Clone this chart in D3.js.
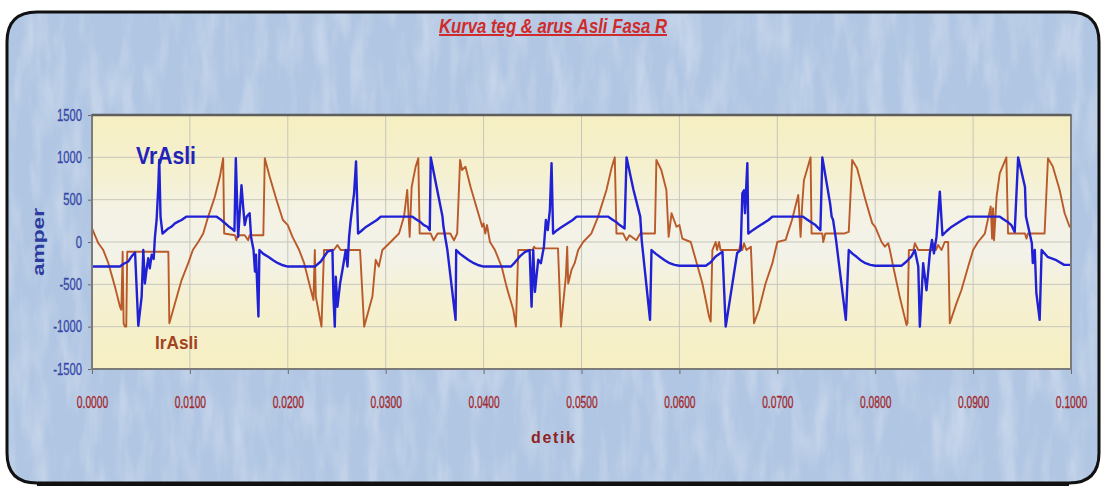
<!DOCTYPE html>
<html><head>
<meta charset="utf-8">
<title>Kurva teg & arus Asli Fasa R</title>
<script src="https://d3js.org/d3.v7.min.js"></script>
<style>
  body { margin: 0; background: #fff; }
  svg { display: block; }
  text { font-family: "Liberation Sans", Arial, sans-serif; }
</style>
</head>
<body>
<svg id="chart" width="1103" height="489"></svg>
<script>
// ---- data (time in ms, value in amper) ----
const xTicks = [0, 0.01, 0.02, 0.03, 0.04, 0.05, 0.06, 0.07, 0.08, 0.09, 0.1];
const yTicks = [-1500, -1000, -500, 0, 500, 1000, 1500];

const vrAsli = [
  [0,-290],[2.85,-290],[3.2,-260],[3.7,-230],[4.1,-160],[4.4,-125],[4.73,-990],[5.07,-645],[5.24,-95],[5.4,-490],
  [5.6,-300],[5.75,-190],[5.9,-310],[6.1,-150],[6.3,-200],[6.43,60],[6.6,260],[6.77,650],[6.87,970],[7.0,300],
  [7.2,100],[7.5,130],[7.8,160],[8.1,180],[8.47,220],[8.8,240],[9.15,260],[9.4,280],[9.66,300],[12.7,300],
  [13.1,270],[13.5,230],[13.9,190],[14.25,160],[14.55,130],[14.69,990],[14.93,60],[15.27,670],[15.45,400],[15.6,200],
  [15.8,300],[16.1,340],[16.25,60],[16.5,-95],[16.65,-350],[16.75,-150],[17.0,-880],[17.1,-95],[17.5,-140],[18.0,-175],
  [18.5,-215],[19.0,-250],[19.5,-275],[20,-290],
  [22.76,-290],[23.37,-230],[24.05,-115],[24.56,-95],[24.66,-640],[24.8,-1000],[24.9,-410],[25.07,-765],[25.34,-490],[25.58,-330],
  [25.92,-95],[26.1,-290],[26.26,60],[26.43,260],[26.77,575],[26.97,950],[27.18,100],[27.5,130],[27.9,170],[28.3,200],
  [28.7,230],[29.1,260],[29.5,300],[32.7,300],[33.1,270],[33.5,240],[33.9,200],[34.25,180],[34.5,140],[34.6,1000],
  [35.2,650],[35.8,300],[35.9,180],[36.3,-95],[37.14,-920],[37.2,-95],[37.6,-140],[38.0,-175],[38.5,-215],[39.0,-250],
  [39.5,-275],[40,-290],
  [42.8,-290],[43.2,-240],[43.7,-170],[44.2,-120],[44.7,-95],[44.9,-765],[45.07,-95],[45.24,-590],[45.58,-210],[45.85,-250],
  [46.16,-55],[46.36,260],[46.55,140],[46.77,380],[46.94,930],[47.1,100],[47.5,140],[47.9,170],[48.3,200],[48.7,230],
  [49.1,260],[49.5,300],[52.7,300],[53.1,270],[53.5,240],[53.9,200],[54.4,160],[54.6,1000],[55.3,620],[56.0,300],
  [56.15,20],[57.0,-920],[57.15,-95],[57.6,-140],[58.0,-175],[58.5,-215],[59.0,-250],[59.5,-270],[60,-280],
  [62.7,-280],[63.2,-240],[63.7,-170],[64.4,-115],[64.73,-1000],[65.9,-130],[66.26,-95],[66.43,575],[66.6,610],[66.7,340],
  [66.94,930],[67.04,100],[67.5,140],[67.9,170],[68.3,200],[68.7,230],[69.1,260],[69.5,300],[72.6,300],[73.0,270],
  [73.5,230],[73.9,200],[74.4,140],[74.6,1000],[75.4,450],[75.55,300],[75.7,260],[76.0,25],[77.0,-920],[77.3,-95],
  [77.7,-140],[78.1,-175],[78.5,-215],[79.0,-250],[79.5,-270],[80,-280],
  [82.7,-280],[83.2,-230],[83.7,-170],[84.05,-95],[84.4,-290],[84.56,-1000],[84.73,-645],[84.9,-250],[85.24,-570],[85.58,-135],
  [85.8,25],[86.0,-135],[86.26,60],[86.6,595],[86.87,80],[87.3,130],[87.7,170],[88.1,200],[88.5,230],[88.9,260],
  [89.5,300],[92.7,300],[93.1,270],[93.5,240],[93.9,200],[94.25,120],[94.6,1000],[95.3,650],[95.4,300],[96.0,-15],
  [96.1,-250],[96.3,-95],[96.46,-600],[96.8,-920],[97.0,-95],[97.6,-175],[98.5,-215],[99.3,-270],[100,-270]
];

const irAsli = [
  [0,160],[0.65,-15],[1.15,-95],[1.67,-250],[2.35,-530],[2.86,-765],[3.0,-800],[3.13,-115],[3.23,-960],[3.37,-1000],
  [3.5,-1000],[3.6,-115],[7.8,-115],[7.9,-960],[8.47,-725],[9.15,-450],[9.83,-250],[10.3,-95],[10.85,0],[11.36,100],
  [11.87,300],[12.55,535],[13.06,770],[13.4,990],[13.5,100],[14.6,80],[14.75,20],[14.9,80],[15.6,80],[15.95,20],
  [16.1,80],[17.5,80],[17.65,990],[18.15,770],[18.84,500],[19.5,260],[20,200],
  [20.48,60],[21.16,-95],[21.67,-250],[22.35,-565],[22.62,-685],[22.76,-95],[22.86,-645],[23.44,-1000],[23.7,-95],[24.7,-95],
  [25.07,-35],[25.4,-95],[27.38,-95],[27.8,-1000],[28.64,-645],[28.98,-210],[29.3,-290],[29.66,-95],[30.5,0],[31.36,100],
  [31.87,300],[32.2,615],[32.45,60],[32.65,650],[33.06,890],[33.33,990],[33.47,100],[34.6,100],[34.9,20],[35.3,100],
  [36.6,100],[36.97,20],[37.3,100],[37.6,970],[37.8,850],[38.15,890],[38.67,650],[39.35,380],[39.86,180],[40,220],
  [40.17,100],[40.35,200],[40.65,0],[41.16,-95],[41.84,-290],[42.35,-530],[43.03,-800],[43.3,-1000],[43.54,-95],[45.0,-95],
  [45.15,-55],[45.3,-75],[47.6,-75],[47.9,-1000],[48.4,-410],[48.54,-55],[48.64,-490],[48.98,-330],[49.3,-250],[49.66,-95],
  [50.17,0],[51.0,100],[51.7,300],[52.55,615],[53.06,870],[53.4,1000],[53.57,100],[54.25,100],[54.6,20],[54.9,80],
  [55.6,20],[56.0,100],[57.5,100],[57.65,970],[58.15,850],[58.67,615],[58.9,60],[59.2,340],[59.7,180],[60,200],
  [60.3,40],[61.16,0],[61.67,-210],[62.35,-490],[63.03,-880],[63.2,-940],[63.37,-95],[63.7,0],[63.85,-95],[64.05,0],
  [64.2,-95],[66.1,-95],[66.26,-15],[66.43,-95],[66.6,-15],[66.85,-95],[67.3,-55],[67.62,-960],[68.13,-800],[68.8,-490],
  [69.5,-250],[70.0,0],[70.85,25],[71.5,260],[72.14,555],[72.38,60],[72.55,455],[72.72,730],[73.4,1000],[73.5,100],
  [74.6,100],[74.69,0],[74.9,100],[76.8,100],[77.3,120],[77.65,970],[78.15,870],[79.0,500],[79.7,220],[80,180],
  [80.65,0],[80.99,-55],[81.33,-15],[81.5,-95],[81.84,-290],[82.5,-645],[83.2,-980],[83.3,-960],[83.44,-95],[83.9,-95],
  [84.05,-15],[84.4,-95],[85.9,-95],[86.05,-15],[86.2,-95],[86.43,-35],[86.77,-95],[87.1,0],[87.45,0],[87.62,-960],
  [88.3,-725],[88.8,-570],[89.5,-290],[90.0,-95],[90.5,0],[91.2,100],[91.5,260],[91.8,420],[91.94,40],[92.04,400],
  [92.14,20],[92.4,535],[92.72,810],[93.4,1000],[93.57,100],[95.3,100],[95.45,40],[95.6,100],[97.3,100],[97.65,990],
  [98.15,890],[98.84,615],[99.35,340],[99.86,180],[100,175]
];

// ---- drawing ----
const svg = d3.select("#chart");
const plot = { left: 92, right: 1071, top: 115, bottom: 369 };

// squeeze text horizontally to mimic the narrow font of the original
function narrow(sel, k) {
  sel.each(function () {
    const w = this.getComputedTextLength();
    d3.select(this).attr("textLength", w * k).attr("lengthAdjust", "spacingAndGlyphs");
  });
}

const defs = svg.append("defs");

// faint fibrous texture for the blue card
const paper = defs.append("filter").attr("id", "paper")
  .attr("x", 0).attr("y", 0).attr("width", "100%").attr("height", "100%");
paper.append("feTurbulence").attr("type", "fractalNoise")
  .attr("baseFrequency", "0.06 0.015").attr("numOctaves", 3).attr("seed", 4).attr("result", "noise");
paper.append("feColorMatrix").attr("in", "noise").attr("type", "matrix")
  .attr("values", "0 0 0 0 1  0 0 0 0 1  0 0 0 0 1  0 0 0 0.5 -0.2").attr("result", "spots");
paper.append("feComposite").attr("in", "spots").attr("in2", "SourceGraphic").attr("operator", "in").attr("result", "clip");
paper.append("feMerge").call(m => {
  m.append("feMergeNode").attr("in", "SourceGraphic");
  m.append("feMergeNode").attr("in", "clip");
});

// pale yellow plot area, whiter band through the middle
const grad = defs.append("linearGradient").attr("id", "plotFill")
  .attr("x1", 0).attr("y1", 0).attr("x2", 0).attr("y2", 1);
[["0%", "#f6efc2"], ["22%", "#f5f0cf"], ["38%", "#f4f2e4"], ["55%", "#f3f2e8"], ["72%", "#f5f0d2"], ["100%", "#f6efc2"]]
  .forEach(([o, c]) => grad.append("stop").attr("offset", o).attr("stop-color", c));

// card with rounded corners
const r = 30, L = 7, T = 12, R = 1099, B = 483;
const card = `M${L},${T + r} Q${L},${T} ${L + r},${T} L${R - r},${T} Q${R},${T} ${R},${T + r} L${R},${B - r} Q${R},${B} ${R - r},${B} L${L + r},${B} Q${L},${B} ${L},${B - r} Z`;
svg.append("path").attr("d", card).attr("fill", "#b0c6e3").attr("filter", "url(#paper)");
svg.append("path").attr("d", card).attr("fill", "none").attr("stroke", "#111").attr("stroke-width", 3);
svg.append("line").attr("x1", L + r).attr("x2", R - r).attr("y1", B + 1).attr("y2", B + 1)
  .attr("stroke", "#111").attr("stroke-width", 4);

// scales
const x = d3.scaleLinear().domain([0, 0.1]).range([plot.left, plot.right]);
const y = d3.scaleLinear().domain([-1500, 1500]).range([plot.bottom, plot.top]);

svg.append("rect")
  .attr("x", plot.left).attr("y", plot.top)
  .attr("width", plot.right - plot.left).attr("height", plot.bottom - plot.top)
  .attr("fill", "url(#plotFill)");

// grid
const grid = svg.append("g").attr("stroke", "#c6c6bc").attr("stroke-width", 1);
grid.selectAll(".gx").data(xTicks.slice(1, -1)).enter().append("line")
  .attr("x1", d => x(d)).attr("x2", d => x(d)).attr("y1", plot.top).attr("y2", plot.bottom);
grid.selectAll(".gy").data(yTicks.slice(1, -1)).enter().append("line")
  .attr("x1", plot.left).attr("x2", plot.right).attr("y1", d => y(d)).attr("y2", d => y(d));

// axes
const xAxis = svg.append("g").attr("transform", `translate(0,${plot.bottom})`)
  .call(d3.axisBottom(x).tickValues(xTicks).tickFormat(d3.format(".4f")).tickSize(5).tickPadding(23));
xAxis.select(".domain").remove();
xAxis.selectAll("line").attr("stroke", "#6a6a6a");
xAxis.selectAll("text").attr("font-size", 16).attr("fill", "#a3282c")
  .attr("stroke", "#a3282c").attr("stroke-width", 0.35).call(narrow, 0.64);

const yAxis = svg.append("g").attr("transform", `translate(${plot.left},0)`)
  .call(d3.axisLeft(y).tickValues(yTicks).tickFormat(d => String(d)).tickSize(4).tickPadding(6));
yAxis.select(".domain").remove();
yAxis.selectAll("line").attr("stroke", "#6a6a6a");
yAxis.selectAll("text").attr("font-size", 16).attr("fill", "#3646a6")
  .attr("stroke", "#3646a6").attr("stroke-width", 0.3).call(narrow, 0.7);

// lines
const line = d3.line().x(d => x(d[0] / 1000)).y(d => y(d[1]));
svg.append("path").datum(irAsli).attr("d", line)
  .attr("fill", "none").attr("stroke", "#b95a2a").attr("stroke-width", 1.9).attr("stroke-linejoin", "round");
svg.append("path").datum(vrAsli).attr("d", line)
  .attr("fill", "none").attr("stroke", "#2020d4").attr("stroke-width", 2.4).attr("stroke-linejoin", "round");

// plot frame
svg.append("rect")
  .attr("x", plot.left).attr("y", plot.top)
  .attr("width", plot.right - plot.left).attr("height", plot.bottom - plot.top)
  .attr("fill", "none").attr("stroke", "#7b7b7b").attr("stroke-width", 2);
svg.append("line").attr("x1", plot.left).attr("x2", plot.right).attr("y1", plot.top).attr("y2", plot.top)
  .attr("stroke", "#5e5e5e").attr("stroke-width", 2.5);

// texts
svg.append("text")
  .attr("x", 553).attr("y", 33).attr("text-anchor", "middle")
  .attr("font-size", 20).attr("font-weight", "bold").attr("font-style", "italic")
  .attr("fill", "#d02a2a").attr("text-decoration", "underline")
  .attr("textLength", 228).attr("lengthAdjust", "spacingAndGlyphs")
  .text("Kurva teg & arus Asli Fasa R");

svg.append("text")
  .attr("transform", "translate(44,242) rotate(-90)").attr("text-anchor", "middle")
  .attr("font-size", 16).attr("font-weight", "bold")
  .attr("textLength", 68).attr("lengthAdjust", "spacingAndGlyphs")
  .attr("fill", "#2c3c9c").text("amper");

svg.append("text")
  .attr("x", 553).attr("y", 443).attr("text-anchor", "middle")
  .attr("font-size", 16).attr("font-weight", "bold")
  .attr("textLength", 44).attr("lengthAdjust", "spacing")
  .attr("fill", "#8e2424").text("detik");

svg.append("text")
  .attr("x", 136).attr("y", 164)
  .attr("font-size", 23).attr("font-weight", "bold").attr("fill", "#2222b8")
  .attr("textLength", 60).attr("lengthAdjust", "spacingAndGlyphs").text("VrAsli");

svg.append("text")
  .attr("x", 155).attr("y", 349)
  .attr("font-size", 18).attr("font-weight", "bold").attr("fill", "#a2441f")
  .attr("textLength", 43).attr("lengthAdjust", "spacingAndGlyphs").text("IrAsli");
</script>
</body>
</html>
